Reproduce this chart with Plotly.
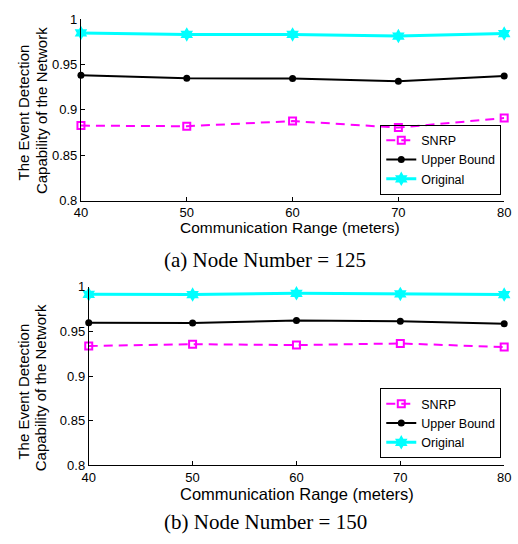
import plotly.graph_objects as go

ranges = [40, 50, 60, 70, 80]

# (a) Node Number = 125
snrp_125 = [0.8827, 0.8820, 0.8877, 0.8805, 0.8910]
upper_125 = [0.9380, 0.9348, 0.9345, 0.9316, 0.9372]
orig_125 = [0.9846, 0.9830, 0.9830, 0.9812, 0.9840]

# (b) Node Number = 150
snrp_150 = [0.9336, 0.9357, 0.9347, 0.9365, 0.9325]
upper_150 = [0.9597, 0.9593, 0.9622, 0.9615, 0.9586]
orig_150 = [0.9916, 0.9913, 0.9927, 0.9920, 0.9913]

y_ticks = [0.8, 0.85, 0.9, 0.95, 1.0]
y_ticktext = ["0.8", "0.85", "0.9", "0.95", "1"]
x_ticks = [40, 50, 60, 70, 80]

W, H = 518, 544

def px_x(p):
    return p / W

def px_y(p):
    return 1 - p / H

fig = go.Figure()

def add_set(snrp, upper, orig, xa, ya, legend):
    fig.add_trace(go.Scatter(
        x=ranges, y=snrp, name="SNRP", mode="lines+markers", cliponaxis=False,
        line=dict(color="#FF00FF", width=2, dash="9px,6px"),
        marker=dict(symbol="square-open", size=7, color="#FF00FF", line=dict(width=2, color="#FF00FF")),
        xaxis=xa, yaxis=ya, legend=legend))
    fig.add_trace(go.Scatter(
        x=ranges, y=upper, name="Upper Bound", mode="lines+markers", cliponaxis=False,
        line=dict(color="black", width=2),
        marker=dict(symbol="circle", size=7, color="black"),
        xaxis=xa, yaxis=ya, legend=legend))
    fig.add_trace(go.Scatter(
        x=ranges, y=orig, name="Original", mode="lines+markers", cliponaxis=False,
        line=dict(color="#00FFFF", width=3),
        marker=dict(symbol="hexagram", size=11, color="#00FFFF", line=dict(width=0)),
        xaxis=xa, yaxis=ya, legend=legend))

add_set(snrp_125, upper_125, orig_125, "x", "y", "legend")
add_set(snrp_150, upper_150, orig_150, "x2", "y2", "legend2")

axis_common = dict(showline=True, linecolor="black", linewidth=1, mirror=False,
                   ticks="inside", ticklen=4, tickcolor="black", tickwidth=1,
                   showgrid=False, zeroline=False, ticklabeloverflow="allow",
                   tickfont=dict(family="Liberation Sans, Arial", size=13, color="black"))

fig.update_layout(
    width=W, height=H,
    margin=dict(l=0, r=0, t=0, b=0),
    paper_bgcolor="white", plot_bgcolor="white",
    font=dict(family="Liberation Sans, Arial", color="black"),
    xaxis=dict(domain=[px_x(76), px_x(511)], range=[40, 80], tickvals=x_ticks, anchor="y", **axis_common),
    yaxis=dict(domain=[px_y(199.3), px_y(12.3)], range=[0.8, 1.0], tickvals=y_ticks, ticktext=y_ticktext, anchor="x", **axis_common),
    xaxis2=dict(domain=[px_x(84), px_x(511)], range=[40, 80], tickvals=x_ticks, anchor="y2", **axis_common),
    yaxis2=dict(domain=[px_y(471.3), px_y(287.7)], range=[0.8, 1.0], tickvals=y_ticks, ticktext=y_ticktext, anchor="x2", **axis_common),
    legend=dict(x=px_x(508), y=px_y(193), xanchor="right", yanchor="bottom",
                bordercolor="black", borderwidth=1, bgcolor="rgba(255,255,255,0)",
                font=dict(size=12.5, color="black"), tracegroupgap=0),
    legend2=dict(x=px_x(508), y=px_y(464), xanchor="right", yanchor="bottom",
                 bordercolor="black", borderwidth=1, bgcolor="rgba(255,255,255,0)",
                 font=dict(size=12.5, color="black"), tracegroupgap=0),
)

annots = [
    dict(text="Communication Range (meters)", x=px_x(291), y=px_y(227), size=15.5),
    dict(text="Communication Range (meters)", x=px_x(298), y=px_y(500.5), size=16.5),
]
for a in annots:
    fig.add_annotation(text=a["text"], x=a["x"], y=a["y"], xref="paper", yref="paper",
                       xanchor="center", yanchor="middle", showarrow=False,
                       font=dict(family="Liberation Sans, Arial", size=a["size"], color="black"))

ytitles = [
    ("The Event Detection", 17, 109),
    ("Capability of the Network", 35, 107),
    ("The Event Detection", 17, 396),
    ("Capability of the Network", 34, 392),
]
for t, xp, yp in ytitles:
    fig.add_annotation(text=t, x=px_x(xp), y=px_y(yp), xref="paper", yref="paper",
                       xanchor="center", yanchor="middle", showarrow=False, textangle=-90,
                       font=dict(family="Liberation Sans, Arial", size=15, color="black"))

captions = [
    ("(a) Node Number = 125", 265, 260),
    ("(b) Node Number = 150", 266, 530),
]
for t, xp, yp in captions:
    fig.add_annotation(text=t, x=px_x(xp), y=px_y(yp), xref="paper", yref="paper",
                       xanchor="center", yanchor="middle", showarrow=False,
                       font=dict(family="Liberation Serif, Times New Roman", size=21, color="black"))

fig.write_html("out.html", config={"displayModeBar": False},
               post_script="document.body.style.margin='0';document.body.style.overflow='hidden';")
